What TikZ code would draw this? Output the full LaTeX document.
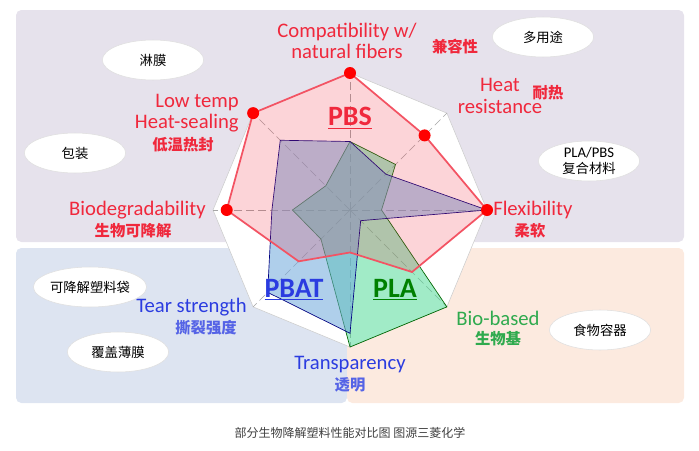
\documentclass[tikz,border=0pt]{standalone}
\usepackage{fontspec}
\setmainfont{Carlito}
\newfontfamily\cjk{Noto Sans CJK SC}
\usetikzlibrary{positioning, shapes, arrows.meta, calc}
\definecolor{panelpurple}{HTML}{E6E2EC}
\definecolor{panelblue}{HTML}{DDE4F1}
\definecolor{panelpeach}{HTML}{FCEADF}
\definecolor{pbsred}{HTML}{F0283C}
\definecolor{pbatblue}{HTML}{2B3CE0}
\definecolor{plagreen}{HTML}{2FAA4E}
\definecolor{pbatfill}{HTML}{6FA8DC}
\definecolor{plafill}{HTML}{45D890}
\tikzset{
  bubble/.style={ellipse, fill=white, draw=gray!25, minimum width=76pt, minimum height=30pt, inner sep=0pt, font=\cjk\fontsize{10}{11.5}\selectfont, align=center},
  axislabel/.style={font=\fontsize{15.5}{16}\selectfont, inner sep=0pt, align=center},
  cjklabel/.style={font=\cjk\bfseries\fontsize{11.5}{13}\selectfont, inner sep=0pt},
  matname/.style={font=\bfseries\fontsize{21}{23}\selectfont}
}
\begin{document}
\begin{tikzpicture}[x=0.75pt, y=-0.75pt]
                  \useasboundingbox (0,0) rectangle (699,450);
                  % Panels
                  \fill[panelpurple, rounded corners=4pt] (16,10) rectangle (684,242);
                  \fill[panelblue, rounded corners=4pt] (16,248) rectangle (347,403);
                  \fill[panelpeach, rounded corners=4pt] (347,248) rectangle (684,403);

                  % Radar frame
                  \coordinate (centre) at (350,210);
                  \foreach \k/\a in {1/-90,2/-45,3/0,4/45,5/90,6/135,7/180,8/225}
                  \coordinate (rim\k) at ($(centre)+(\a:137)$);
                  \draw[gray!40, fill=white] (rim1) -- (rim2) -- (rim3) -- (rim4) -- (rim5) -- (rim6) -- (rim7) -- (rim8) -- cycle;
                  \foreach \k in {1,...,8}
                  \draw[gray!70, dash pattern=on 6pt off 3pt] (centre) -- (rim\k);

                  % Data
                  \foreach \k/\a/\pla/\pbat/\pbs in {1/-90/0.5/0.5/1, 2/-45/0.47/0.37/0.77, 3/0/0.23/1/1, 4/45/1/0.11/0.64,
                                                      5/90/1/0.9/0.31, 6/135/0.3/0.85/0.53, 7/180/0.42/0.57/0.9, 8/225/0.25/0.72/1}
                  {
                  \coordinate (pla\k) at ($(centre)+(\a:{\pla*137})$);
                  \coordinate (pbat\k) at ($(centre)+(\a:{\pbat*137})$);
                  \coordinate (pbs\k) at ($(centre)+(\a:{\pbs*137})$);
                  }
                  \draw[draw=green!40!black, fill=plafill, fill opacity=0.5, line width=0.5pt] (pla1) -- (pla2) -- (pla3) -- (pla4) -- (pla5) -- (pla6) -- (pla7) -- (pla8) -- cycle;
                  \draw[draw=blue!50!black, fill=pbatfill, fill opacity=0.55, line width=0.5pt] (pbat1) -- (pbat2) -- (pbat3) -- (pbat4) -- (pbat5) -- (pbat6) -- (pbat7) -- (pbat8) -- cycle;
                  \draw[draw=pbsred!80, fill=pbsred, fill opacity=0.2, line width=1.3pt] (pbs1) -- (pbs2) -- (pbs3) -- (pbs4) -- (pbs5) -- (pbs6) -- (pbs7) -- (pbs8) -- cycle;
                  \foreach \k in {1,2,3,7,8}
                  \fill[red] (pbs\k) circle (6);

                  % Material names
                  \node[matname, text=pbsred] (pbsname) at (350,118) {\underline{PBS}};
                  \node[matname, text=pbatblue] (pbatname) at (294,290) {\underline{PBAT}};
                  \node[matname, text=green!50!black] (planame) at (395,290) {\underline{PLA}};

                  % Axis labels
                  \node[axislabel, text=pbsred] (compat) at (347,41) {Compatibility w/\\natural fibers};
                  \node[cjklabel, text=pbsred] (compatcn) at (455,47) {兼容性};
                  \node[axislabel, text=pbsred] (heat) at (500,96) {Heat\\resistance};
                  \node[cjklabel, text=pbsred] (heatcn) at (548,93) {耐热};
                  \node[axislabel, text=pbsred, align=right, anchor=east] (lowtemp) at (239,113) {Low temp\\Heat-sealing};
                  \node[cjklabel, text=pbsred] (lowtempcn) at (183,145) {低温热封};
                  \node[axislabel, text=pbsred, anchor=east] (biodeg) at (206,210) {Biodegradability};
                  \node[cjklabel, text=pbsred] (biodegcn) at (133,231) {生物可降解};
                  \node[axislabel, text=pbsred, anchor=west] (flex) at (493,210) {Flexibility};
                  \node[cjklabel, text=pbsred] (flexcn) at (530,231) {柔软};
                  \node[axislabel, text=plagreen] (biobased) at (498,318) {Bio-based};
                  \node[cjklabel, text=plagreen] (biobasedcn) at (498,339) {生物基};
                  \node[axislabel, text=pbatblue] (transp) at (350,365) {Transparency};
                  \node[cjklabel, text=pbatblue!80] (transpcn) at (350,385) {透明};
                  \node[axislabel, text=pbatblue, anchor=east] (tear) at (247,307) {Tear strength};
                  \node[cjklabel, text=pbatblue!80] (tearcn) at (206,328) {撕裂强度};

                  % Uses
                  \node[bubble] (lin) at (153,60) {淋膜};
                  \node[bubble] (pack) at (75,153) {包装};
                  \node[bubble] (bags) at (90,287) {可降解塑料袋};
                  \node[bubble] (mulch) at (118,352) {覆盖薄膜};
                  \node[bubble] (multi) at (543,37) {多用途};
                  \node[bubble, font=\fontsize{11}{11.5}\selectfont] (blend) at (589,161) {PLA/PBS\\{\cjk\fontsize{10}{11.5}\selectfont 复合材料}};
                  \node[bubble] (food) at (600,330) {食物容器};

                  % Caption
                  \node[font=\cjk\fontsize{9}{10}\selectfont, text=black!75] (caption) at (350,433) {部分生物降解塑料性能对比图 图源三菱化学};
              \end{tikzpicture}
\end{document}
